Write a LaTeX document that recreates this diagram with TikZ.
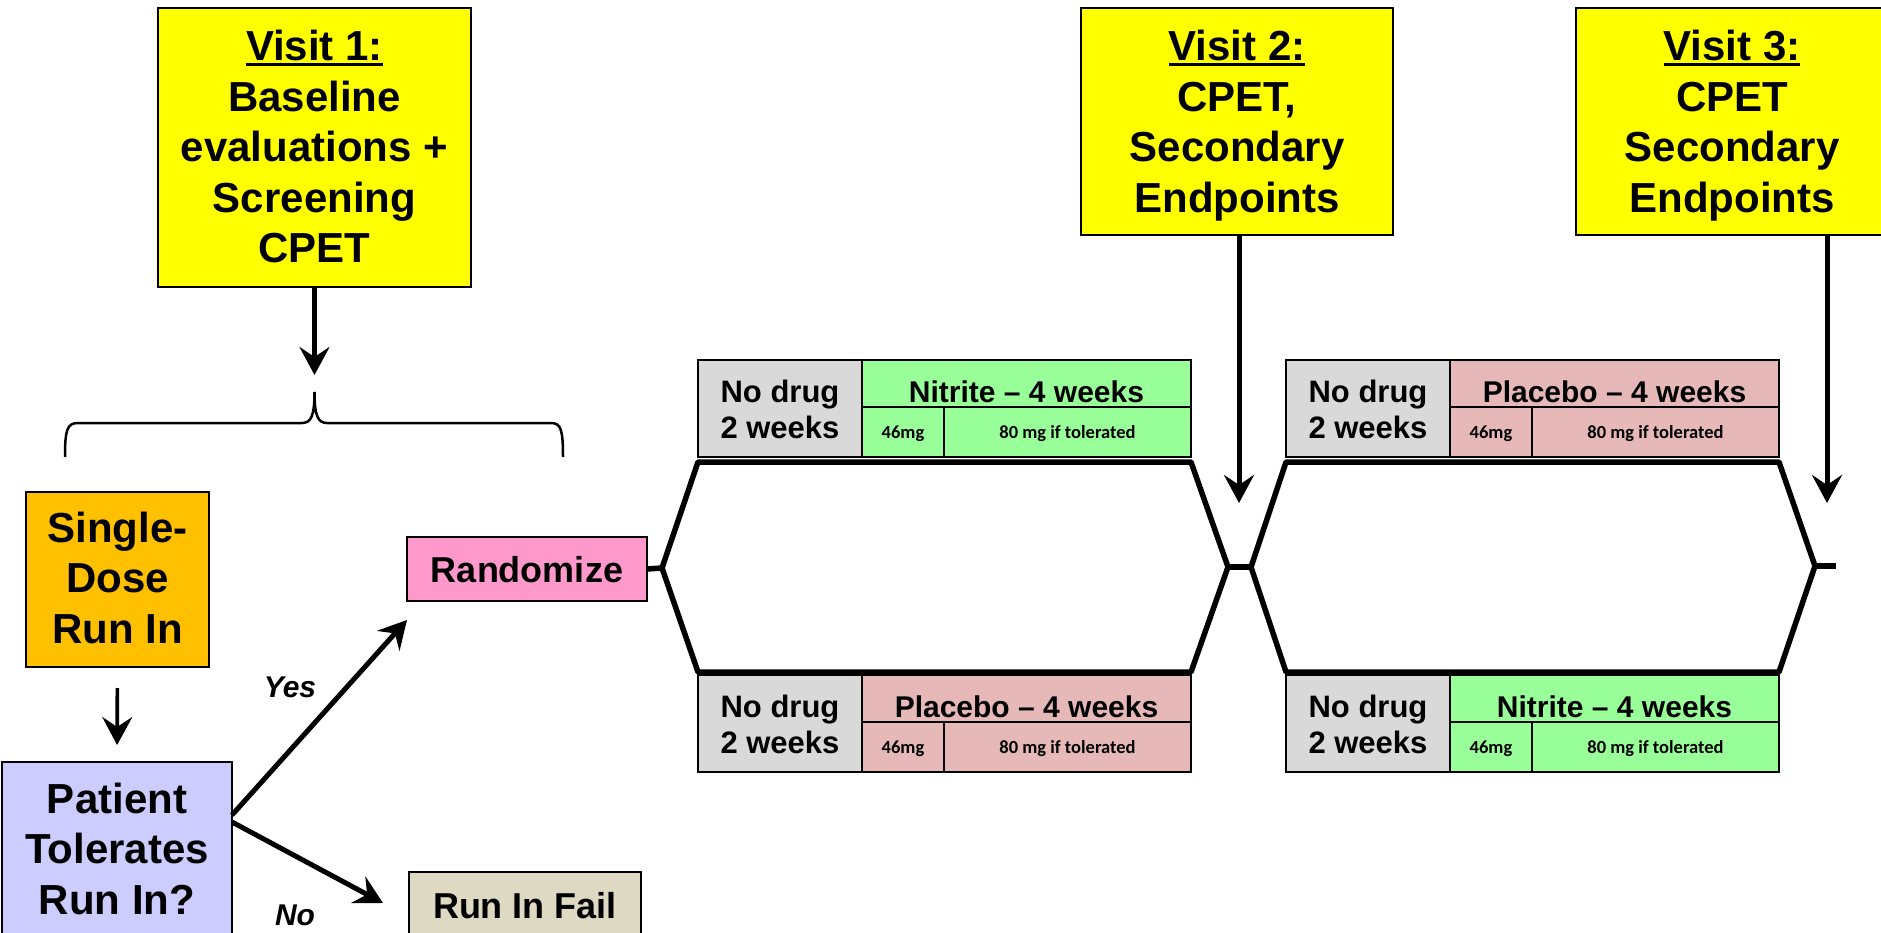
\documentclass[tikz,border=0pt]{standalone}
\usepackage{fontspec}
\setmainfont{Liberation Sans}
\newfontfamily\calib{Carlito}
\usetikzlibrary{arrows.meta}
\definecolor{vyellow}{HTML}{FFFF00}
\definecolor{vorange}{HTML}{FFC000}
\definecolor{vlav}{HTML}{CCCCFF}
\definecolor{vpink}{HTML}{FF99CC}
\definecolor{vtan}{HTML}{DDD9C3}
\definecolor{vgray}{HTML}{D9D9D9}
\definecolor{vgreen}{HTML}{99FF99}
\definecolor{vplac}{HTML}{E6B9B8}
\newcommand{\vul}[1]{\setbox0\hbox{#1}\rlap{\rule[-5pt]{\wd0}{3pt}}\box0}
\newcommand{\armgroup}[5]{%
  \node[box, armfont, fill=vgray, minimum width=164pt, text height=78pt, text depth=19pt] (#1g) at ({#2+82},{#3+78}) {No drug\\2 weeks};
  \node[box, headfont, fill=#4, minimum width=329pt, text height=42pt, text depth=5pt] (#1h) at ({#2+328.5},{#3+42}) {#5};
  \node[box, smallfont, fill=#4, minimum width=82pt, text height=31pt, text depth=19pt] (#1a) at ({#2+205},{#3+78}) {46mg};
  \node[box, smallfont, fill=#4, minimum width=247pt, text height=31pt, text depth=19pt] (#1b) at ({#2+369.5},{#3+78}) {80 mg if tolerated};
}
\begin{document}
\begin{tikzpicture}[x=1pt,y=-1pt,
  box/.style={draw=black, line width=1.5pt, inner sep=0pt, outer sep=0pt, anchor=base, align=center},
  bigfont/.style={font=\fontsize{42}{50.5}\selectfont\bfseries},
  midfont/.style={font=\fontsize{36}{42}\selectfont\bfseries},
  armfont/.style={font=\fontsize{31}{36}\selectfont\bfseries},
  headfont/.style={font=\fontsize{30}{36}\selectfont\bfseries},
  smallfont/.style={font=\calib\fontsize{18.5}{22}\selectfont\bfseries},
  lab/.style={anchor=base, inner sep=0pt, font=\fontsize{30}{36}\selectfont\bfseries\itshape},
  arrowA/.style={line width=5pt, -{Stealth[length=28pt,width=30pt,inset=10pt]}},
  arrowB/.style={line width=3.7pt, -{Stealth[length=28pt,width=30pt,inset=10pt]}},
  hexline/.style={line width=5.5pt, line join=round},
  bracel/.style={line width=2.5pt}]
\useasboundingbox (0,0) rectangle (1881,933);
\clip (0,0) rectangle (1881,933);

% visit boxes (base = last text line)
\node[box, bigfont, fill=vyellow, minimum width=313pt, text height=255pt, text depth=24pt] (v1) at (314.5,263) {\vul{Visit 1:}\\Baseline\\evaluations +\\Screening\\CPET};
\node[box, bigfont, fill=vyellow, minimum width=312pt, text height=204.5pt, text depth=22.5pt] (v2) at (1237,212.5) {\vul{Visit 2:}\\CPET,\\Secondary\\Endpoints};
\node[box, bigfont, fill=vyellow, minimum width=312pt, text height=204.5pt, text depth=22.5pt] (v3) at (1732,212.5) {\vul{Visit 3:}\\CPET\\Secondary\\Endpoints};

% left flow
\node[box, bigfont, fill=vorange, minimum width=183pt, text height=151pt, text depth=24pt] (single) at (117.5,643) {Single-\\Dose\\Run In};
\node[box, bigfont, fill=vlav, minimum width=230pt, text height=152pt, text depth=31pt] (patient) at (117,914) {Patient\\Tolerates\\Run In?};
\node[box, midfont, fill=vpink, minimum width=240pt, text height=45pt, text depth=19pt] (rand) at (527,582) {Randomize};
\node[box, midfont, fill=vtan, minimum width=232pt, text height=46pt, text depth=35pt] (fail) at (525,918) {Run In Fail};
\node[lab] (yes) at (290,697) {Yes};
\node[lab] (no) at (295,925) {No};

% arm groups
\armgroup{a}{698}{360}{vgreen}{Nitrite – 4 weeks}
\armgroup{b}{698}{675}{vplac}{Placebo – 4 weeks}
\armgroup{c}{1286}{360}{vplac}{Placebo – 4 weeks}
\armgroup{d}{1286}{675}{vgreen}{Nitrite – 4 weeks}

% hexagon coordinates
\coordinate (h1L) at (662,568);
\coordinate (h1TL) at (698,462);
\coordinate (h1TR) at (1191,462);
\coordinate (h1R) at (1228,567);
\coordinate (h1BR) at (1191,672);
\coordinate (h1BL) at (698,672);
\coordinate (h2L) at (1251,567);
\coordinate (h2TL) at (1286,462);
\coordinate (h2TR) at (1779,462);
\coordinate (h2R) at (1815,566);
\coordinate (h2BR) at (1779,672);
\coordinate (h2BL) at (1286,672);
\coordinate (h2E) at (1836,566);

\draw[hexline] (rand.east) -- (h1L);
\draw[hexline] (h1L) -- (h1TL) -- (h1TR) -- (h1R) -- (h1BR) -- (h1BL) -- cycle;
\draw[hexline] (h1R) -- (h2L);
\draw[hexline] (h2L) -- (h2TL) -- (h2TR) -- (h2R) -- (h2BR) -- (h2BL) -- cycle;
\draw[hexline] (h2R) -- (h2E);

% brace
\coordinate (brL) at (65,457);
\coordinate (brR) at (563,457);
\coordinate (brT) at (314.5,392);
\draw[bracel] (brL) .. controls (65,430) and (67,423) .. (78,423) -- (302,423)
  .. controls (311,423) and (314.5,416) .. (brT)
  .. controls (314.5,416) and (318,423) .. (327,423) -- (551,423)
  .. controls (561,423) and (563,430) .. (brR);

% arrows
\coordinate (v1end) at (314.5,375);
\coordinate (v2end) at (1239,503);
\coordinate (v3end) at (1827,503);
\draw[arrowA] (v1.south) -- (v1end);
\draw[arrowA] (v2.south -| v2end) -- (v2end);
\draw[arrowA] (v3.south -| v3end) -- (v3end);
\draw[arrowB, shorten <=21pt, shorten >=17pt] (single.south) -- (patient.north);
\draw[arrowA] ([yshift=-53pt]patient.north east) -- ([yshift=-19pt]rand.south west);
\draw[arrowA] ([yshift=-60pt]patient.north east) -- ([xshift=-26pt,yshift=-31pt]fail.north west);
\end{tikzpicture}
\end{document}
